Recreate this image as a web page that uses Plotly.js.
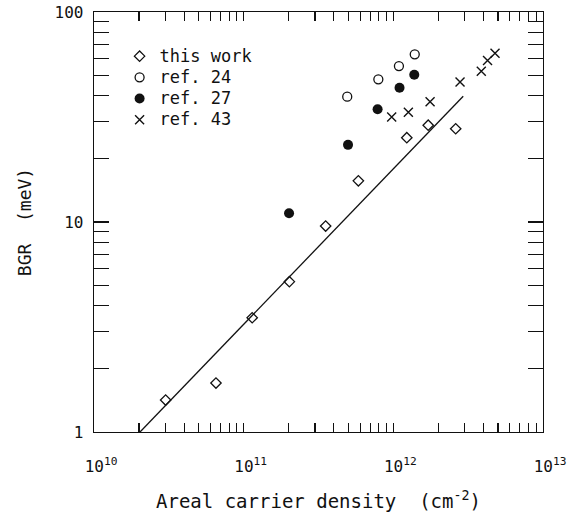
<!DOCTYPE html>
<html>
<head>
<meta charset="utf-8">
<script src="https://cdn.plot.ly/plotly-3.0.1.min.js"></script>
<style>html,body{margin:0;padding:0;background:#fff;}#chart{width:580px;height:514px;}</style>
</head>
<body>
<div id="chart"></div>
<script>
// ---- data (areal carrier density in cm^-2, BGR in meV) ----
const thisWorkN   = [3.01e10, 6.53e10, 1.14e11, 2.02e11, 3.53e11, 5.84e11, 1.23e12, 1.71e12, 2.61e12];
const thisWorkBGR = [1.42, 1.71, 3.50, 5.20, 9.57, 15.7, 25.2, 28.9, 27.8];

const ref24N   = [4.92e11, 7.94e11, 1.09e12, 1.39e12];
const ref24BGR = [39.5, 47.8, 55.3, 62.9];

const ref27N   = [2.01e11, 4.98e11, 7.85e11, 1.10e12, 1.38e12];
const ref27BGR = [11.0, 23.3, 34.4, 43.6, 50.3];

const ref43N   = [9.75e11, 1.26e12, 1.76e12, 2.79e12, 3.87e12, 4.26e12, 4.78e12];
const ref43BGR = [31.6, 33.3, 37.4, 46.4, 52.2, 58.8, 63.6];

const fitN   = [2.03e10, 2.93e12];
const fitBGR = [1.0, 39.7];

const seriesNames = ['this work', 'ref. 24', 'ref. 27', 'ref. 43'];
const xDecades = [10, 11, 12, 13];
const yDecades = [0, 1, 2];
const yTickText = ['1', '10', '100'];
const xTitle = 'Areal carrier density  (cm<sup>-2</sup>)';
const yTitle = 'BGR  (meV)';

// ---- ticks (major + 2..9 minors, labels only on decades) ----
function logTicks(decades, labelFn) {
  const vals = [], text = [];
  decades.forEach((d, i) => {
    const last = i === decades.length - 1;
    const top = last ? 1 : 9;
    for (let m = 1; m <= top; m++) {
      vals.push(m * Math.pow(10, d));
      text.push(m === 1 ? labelFn(d, i) : '');
    }
  });
  return {vals, text};
}
const xt = logTicks(xDecades, d => '10<sup style="font-size:15px">' + d + '</sup>');
const yt = logTicks(yDecades, (d, i) => yTickText[i]);

const FONT = '"DejaVu Sans Mono", "Liberation Mono", monospace';
const INK = '#111';
const legName = s => '<span style="font-size:17px">' + s + '</span>';

const traces = [
  {x: fitN, y: fitBGR, mode: 'lines', line: {color: INK, width: 1.3}, showlegend: false, hoverinfo: 'skip'},
  {x: thisWorkN, y: thisWorkBGR, name: legName(seriesNames[0]), mode: 'markers',
   marker: {symbol: 'diamond-open', size: 8, color: INK, line: {width: 1.3, color: INK}}},
  {x: ref24N, y: ref24BGR, name: legName(seriesNames[1]), mode: 'markers',
   marker: {symbol: 'circle-open', size: 9, color: INK, line: {width: 1.3, color: INK}}},
  {x: ref27N, y: ref27BGR, name: legName(seriesNames[2]), mode: 'markers',
   marker: {symbol: 'circle', size: 10, color: INK, line: {width: 0}}},
  {x: ref43N, y: ref43BGR, name: legName(seriesNames[3]), mode: 'markers',
   marker: {symbol: 'x-thin-open', size: 9, color: INK, line: {width: 1.4, color: INK}}}
];

const layout = {
  width: 580, height: 514,
  margin: {l: 94, r: 37, t: 12, b: 82},
  paper_bgcolor: '#fff', plot_bgcolor: '#fff',
  font: {family: FONT, color: INK, size: 16},
  showlegend: true,
  legend: {x: 0.057, y: 0.932, xanchor: 'left', yanchor: 'top', bgcolor: 'rgba(0,0,0,0)',
           font: {family: FONT, size: 14, color: INK}, borderwidth: 0},
  xaxis: {
    type: 'log', range: [10, 13], showgrid: false, zeroline: false,
    showline: true, linecolor: INK, linewidth: 1.3, mirror: 'ticks',
    ticks: 'inside', ticklen: 9, tickwidth: 1.2, tickcolor: INK,
    tickmode: 'array', tickvals: xt.vals, ticktext: xt.text,
    tickfont: {family: FONT, size: 16, color: INK}, ticklabelshift: 7, ticklabelstandoff: 19,
    title: {text: xTitle, font: {family: FONT, size: 19, color: INK}, standoff: 20}
  },
  yaxis: {
    type: 'log', range: [0, 2], showgrid: false, zeroline: false,
    showline: true, linecolor: INK, linewidth: 1.3, mirror: 'ticks',
    ticks: 'inside', ticklen: 15, tickwidth: 1.2, tickcolor: INK,
    tickmode: 'array', tickvals: yt.vals, ticktext: yt.text,
    tickfont: {family: FONT, size: 16, color: INK}, ticklabelstandoff: 6,
    title: {text: yTitle, font: {family: FONT, size: 18, color: INK}, standoff: 18}
  }
};

Plotly.newPlot('chart', traces, layout, {staticPlot: true, displayModeBar: false});
</script>
</body>
</html>
